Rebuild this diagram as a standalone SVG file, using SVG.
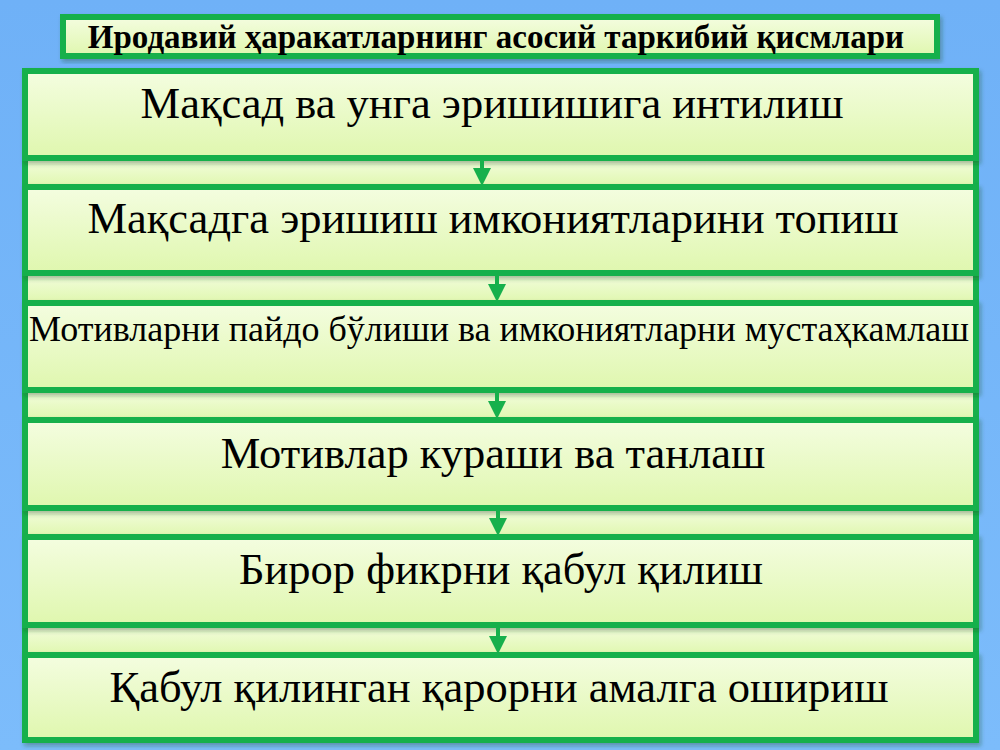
<svg xmlns="http://www.w3.org/2000/svg" width="1000" height="750" viewBox="0 0 1000 750">
  <defs>
    <linearGradient id="bg" x1="0" y1="0" x2="0" y2="1">
      <stop offset="0" stop-color="#6fb1f7"/>
      <stop offset="1" stop-color="#7cbcfb"/>
    </linearGradient>
    <linearGradient id="fill" x1="0" y1="0" x2="0" y2="1">
      <stop offset="0" stop-color="#f4fde0"/>
      <stop offset="1" stop-color="#dff7ae"/>
    </linearGradient>
    <filter id="sh" x="-5%" y="-20%" width="110%" height="140%">
      <feDropShadow dx="2" dy="3" stdDeviation="2" flood-color="#1a4a20" flood-opacity="0.35"/>
    </filter>
  </defs>
  <style>
    .box { fill: url(#fill); stroke: #17b04c; stroke-width: 6; filter: url(#sh); }
    .strip { fill: url(#fill); stroke: #17b04c; stroke-width: 6; }
    .t { font-family: "Liberation Serif", "Times New Roman", serif; fill: #000; text-anchor: middle; }
    .big { font-size: 44.5px; }
    .mid { font-size: 36px; }
    .title { font-size: 33px; font-weight: bold; }
    .arrow { stroke: #17b04c; stroke-width: 4; fill: none; }
    .head { fill: #17b04c; }
  </style>
  <rect x="0" y="0" width="1000" height="750" fill="url(#bg)"/>

  <g id="title">
    <rect class="box" x="63" y="17" width="874" height="39"/>
    <text class="t title" x="496" y="48">Иродавий ҳаракатларнинг асосий таркибий қисмлари</text>
  </g>

  <g id="strips">
    <rect class="strip" x="25" y="158" width="951" height="29"/>
    <rect class="strip" x="25" y="273" width="951" height="30"/>
    <rect class="strip" x="25" y="390" width="951" height="30"/>
    <rect class="strip" x="25" y="508" width="951" height="29"/>
    <rect class="strip" x="25" y="625" width="951" height="30"/>
  </g>

  <g id="node1">
    <rect class="box" x="25" y="71" width="951" height="87"/>
    <text class="t big" x="492" y="118">Мақсад ва унга эришишига интилиш</text>
  </g>
  <g id="node2">
    <rect class="box" x="25" y="187" width="951" height="86"/>
    <text class="t big" x="493" y="233">Мақсадга эришиш имкониятларини топиш</text>
  </g>
  <g id="node3">
    <rect class="box" x="25" y="303" width="951" height="87"/>
    <text class="t mid" x="499" y="341">Мотивларни пайдо бўлиши ва имкониятларни мустаҳкамлаш</text>
  </g>
  <g id="node4">
    <rect class="box" x="25" y="420" width="951" height="88"/>
    <text class="t big" x="493" y="468">Мотивлар кураши ва танлаш</text>
  </g>
  <g id="node5">
    <rect class="box" x="25" y="537" width="951" height="88"/>
    <text class="t big" x="501" y="584">Бирор фикрни қабул қилиш</text>
  </g>
  <g id="node6">
    <rect class="box" x="25" y="655" width="951" height="85"/>
    <text class="t big" x="499" y="702">Қабул қилинган қарорни амалга ошириш</text>
  </g>

  <g id="connectors">
    <line class="arrow" x1="482" y1="160" x2="482" y2="170"/>
    <path class="head" d="M473,168 L491,168 L482,186 Z"/>
    <line class="arrow" x1="497" y1="275" x2="497" y2="286"/>
    <path class="head" d="M488,284 L506,284 L497,302 Z"/>
    <line class="arrow" x1="497" y1="392" x2="497" y2="403"/>
    <path class="head" d="M488,401 L506,401 L497,419 Z"/>
    <line class="arrow" x1="498" y1="510" x2="498" y2="520"/>
    <path class="head" d="M489,518 L507,518 L498,536 Z"/>
    <line class="arrow" x1="498" y1="627" x2="498" y2="638"/>
    <path class="head" d="M489,636 L507,636 L498,654 Z"/>
  </g>
</svg>
